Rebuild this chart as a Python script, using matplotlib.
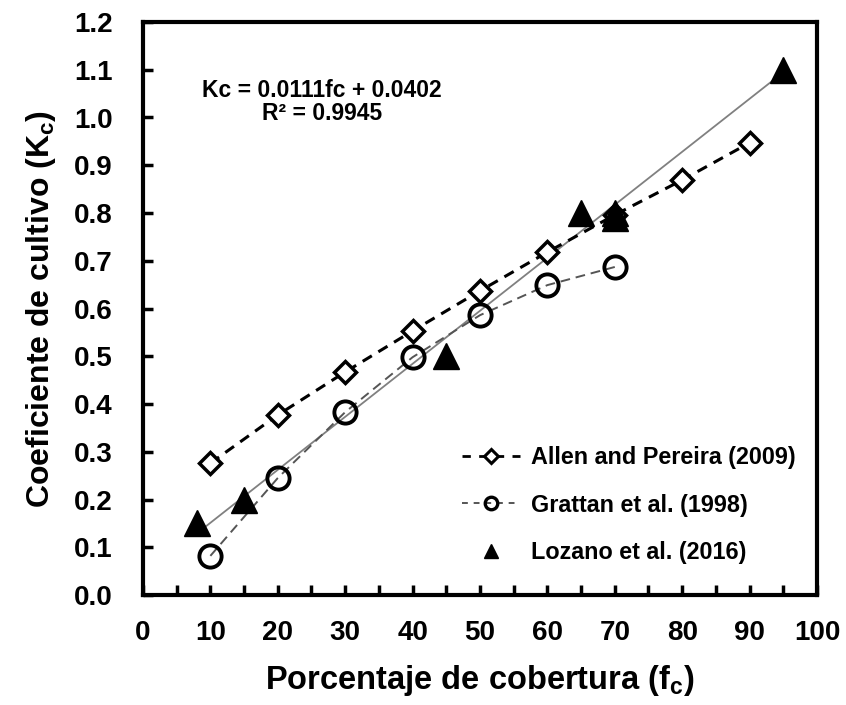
import matplotlib as mpl
import matplotlib.pyplot as plt
import numpy as np
from matplotlib.lines import Line2D
from matplotlib.ticker import MultipleLocator

mpl.use('Agg')
plt.rcParams.update({
    'font.family': ['Liberation Sans', 'DejaVu Sans'],
    'font.weight': 'bold',
    'mathtext.fontset': 'custom',
    'mathtext.rm': 'Liberation Sans:bold',
    'mathtext.bf': 'Liberation Sans:bold',
    'mathtext.it': 'Liberation Sans:bold',
})

# Allen and Pereira (2009)
allen_fc = [10, 20, 30, 40, 50, 60, 70, 80, 90]
allen_kc = [0.276, 0.377, 0.467, 0.553, 0.637, 0.718, 0.796, 0.869, 0.947]

# Grattan et al. (1998)
grattan_fc = [10, 20, 30, 40, 50, 60, 70]
grattan_kc = [0.082, 0.245, 0.383, 0.498, 0.586, 0.649, 0.687]

# Lozano et al. (2016)
lozano_fc = [8, 15, 45, 65, 70, 70, 95]
lozano_kc = [0.15, 0.20, 0.50, 0.80, 0.80, 0.79, 1.10]

# linear trend shown on the chart
trend_slope = 0.0111
trend_intercept = 0.0402
trend_r2 = 0.9945

fig = plt.figure(figsize=(8.46, 7.05), dpi=100)
ax = fig.add_axes([0.169, 0.156, 0.7967, 0.8128])

trend_x = np.array([min(lozano_fc), max(lozano_fc)])
ax.plot(trend_x, trend_slope * trend_x + trend_intercept, color='#808080', lw=1.3, zorder=2)

ax.plot(allen_fc, allen_kc, color='black', lw=2.2, ls=(0, (3.5, 2.5)),
        marker='D', ms=11.5, mfc='white', mec='black', mew=2.5, zorder=3)
ax.plot(grattan_fc, grattan_kc, color='#555555', lw=1.4, ls=(0, (5, 3)),
        marker='o', ms=16, mfc='none', mec='black', mew=2.8, zorder=3)
ax.plot(lozano_fc, lozano_kc, ls='none', marker='^', ms=19, color='black', zorder=4)

ax.text(0.266, 0.881, f'Kc = {trend_slope}fc + {trend_intercept}', transform=ax.transAxes,
        ha='center', va='center', fontsize=16.5, fontweight='bold')
ax.text(0.266, 0.841, f'R² = {trend_r2}', transform=ax.transAxes,
        ha='center', va='center', fontsize=16.5, fontweight='bold')

ax.set_xlim(0, 100)
ax.set_ylim(0, 1.2)
ax.xaxis.set_major_locator(MultipleLocator(10))
ax.xaxis.set_minor_locator(MultipleLocator(5))
ax.yaxis.set_major_locator(MultipleLocator(0.1))
ax.yaxis.set_major_formatter(mpl.ticker.FormatStrFormatter('%.1f'))

ax.tick_params(axis='both', which='both', direction='in', width=2.5, length=7,
               labelsize=20)
ax.tick_params(axis='x', pad=18)
ax.tick_params(axis='y', pad=22)
for spine in ax.spines.values():
    spine.set_linewidth(3)

ax.set_xlabel('Porcentaje de cobertura (f$_{c}$)', fontsize=23.5, fontweight='bold', labelpad=12)
ax.set_ylabel('Coeficiente de cultivo (K$_{c}$)', fontsize=23, fontweight='bold', labelpad=11)

handles = [
    Line2D([], [], color='black', lw=2, ls=(0, (3, 3)), marker='D', ms=7,
           mfc='white', mec='black', mew=2.2),
    Line2D([], [], color='#555555', lw=1.4, ls=(0, (3, 3)), marker='o', ms=9,
           mfc='none', mec='black', mew=2.4),
    Line2D([], [], ls='none', marker='^', ms=10, color='black'),
]
labels = ['Allen and Pereira (2009)', 'Grattan et al. (1998)', 'Lozano et al. (2016)']
ax.legend(handles, labels, loc='upper left', bbox_to_anchor=(0.473, 0.26),
          frameon=False, handlelength=2.5, handletextpad=0.45,
          labelspacing=1.05, borderpad=0, borderaxespad=0,
          prop={'weight': 'bold', 'size': 16.8})

fig.savefig('out.png', dpi=100)
